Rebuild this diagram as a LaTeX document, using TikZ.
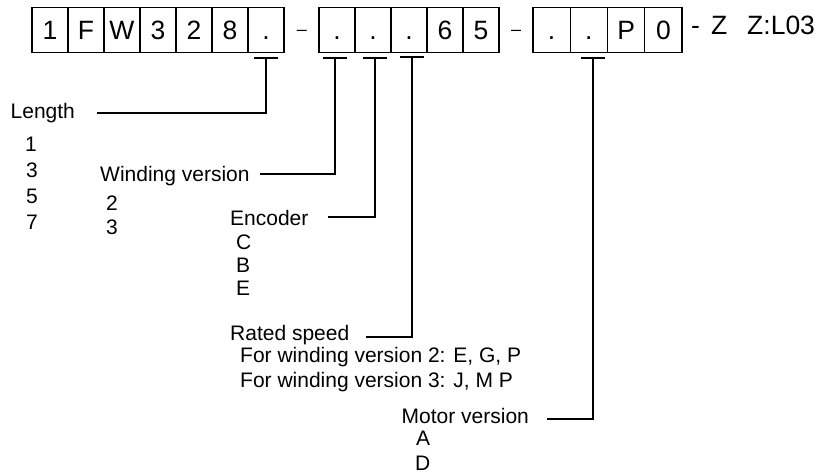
\documentclass[tikz,border=0pt]{standalone}
\usepackage{fontspec}
\setmainfont{Liberation Sans}
\begin{document}
\begin{tikzpicture}[x=1pt,y=-1pt,
  cell/.style={draw,line width=1.2pt,minimum width=36pt,minimum height=45pt,inner sep=0pt,
    font=\fontsize{26.5}{30}\selectfont,text height=19pt,text depth=0pt},
  cellw/.style={cell,minimum width=37.25pt},
  lbl/.style={anchor=base west,inner sep=0pt,font=\fontsize{21}{25}\selectfont},
  top/.style={anchor=base west,inner sep=0pt,font=\fontsize{26.5}{30}\selectfont},
  conn/.style={line width=1.4pt},
  bar/.style={line width=1.4pt}]
\useasboundingbox (0,0) rectangle (821,473);
% group 1
\node[cell] (b1) at (50,29.8) {1};
\node[cell] (b2) at (86,29.8) {F};
\node[cell] (b3) at (122,29.8) {W};
\node[cell] (b4) at (158,29.8) {3};
\node[cell] (b5) at (194,29.8) {2};
\node[cell] (b6) at (230,29.8) {8};
\node[cell] (b7) at (266,29.8) {.};
\node[anchor=base,inner sep=0pt,font=\fontsize{18}{22}\selectfont] (d1) at (302,36) {–};
% group 2
\node[cell] (c1) at (337,29.8) {.};
\node[cell] (c2) at (373,29.8) {.};
\node[cell] (c3) at (409,29.8) {.};
\node[cell] (c4) at (445,29.8) {6};
\node[cell] (c5) at (481,29.8) {5};
\node[anchor=base,inner sep=0pt,font=\fontsize{18}{22}\selectfont] (d2) at (516,36) {–};
% group 3
\node[cellw] (e1) at (551.6,29.8) {.};
\node[cellw] (e2) at (588.9,29.8) {.};
\node[cellw] (e3) at (626.1,29.8) {P};
\node[cellw] (e4) at (663.4,29.8) {0};
\node[top] (z1) at (691,35) {-};
\node[top] (z2) at (711,35) {Z};
\node[top] (z3) at (747,35) {Z:L03};
% labels
\node[lbl] (len) at (10.5,119) {Length};
\node[lbl] (len1) at (25,152) {1};
\node[lbl] (len3) at (26,178) {3};
\node[lbl] (len5) at (26,204) {5};
\node[lbl] (len7) at (26,229) {7};
\node[lbl] (win) at (100,182) {Winding version};
\node[lbl] (win2) at (106,210) {2};
\node[lbl] (win3) at (106,234) {3};
\node[lbl] (enc) at (230,225) {Encoder};
\node[lbl] (encC) at (236,249) {C};
\node[lbl] (encB) at (236,272) {B};
\node[lbl] (encE) at (236,295) {E};
\node[lbl] (rs) at (230,340) {Rated speed};
\node[lbl] (rs2) at (240,362) {For winding version 2: E, G, P};
\node[lbl] (rs3) at (240,387) {For winding version 3: J, M P};
\node[lbl] (mv) at (401.5,423) {Motor version};
\node[lbl] (mvA) at (416,445) {A};
\node[lbl] (mvD) at (415,470) {D};
% T markers
\coordinate (t1) at (266,58);
\coordinate (t2) at (335,58);
\coordinate (t3) at (375,58);
\coordinate (t4) at (412,57);
\coordinate (t5) at (593,58);
\coordinate (l1) at (97,113);
\coordinate (l2) at (260,174);
\coordinate (l3) at (328,217);
\coordinate (l4) at (366,337);
\coordinate (l5) at (547,419);
\foreach \t in {t1,t2,t3,t4,t5}{
  \draw[bar] ([xshift=-12pt]\t) -- ([xshift=12pt]\t);
}
\draw[conn] (t1) |- (l1);
\draw[conn] (t2) |- (l2);
\draw[conn] (t3) |- (l3);
\draw[conn] (t4) |- (l4);
\draw[conn] (t5) |- (l5);
\end{tikzpicture}
\end{document}
